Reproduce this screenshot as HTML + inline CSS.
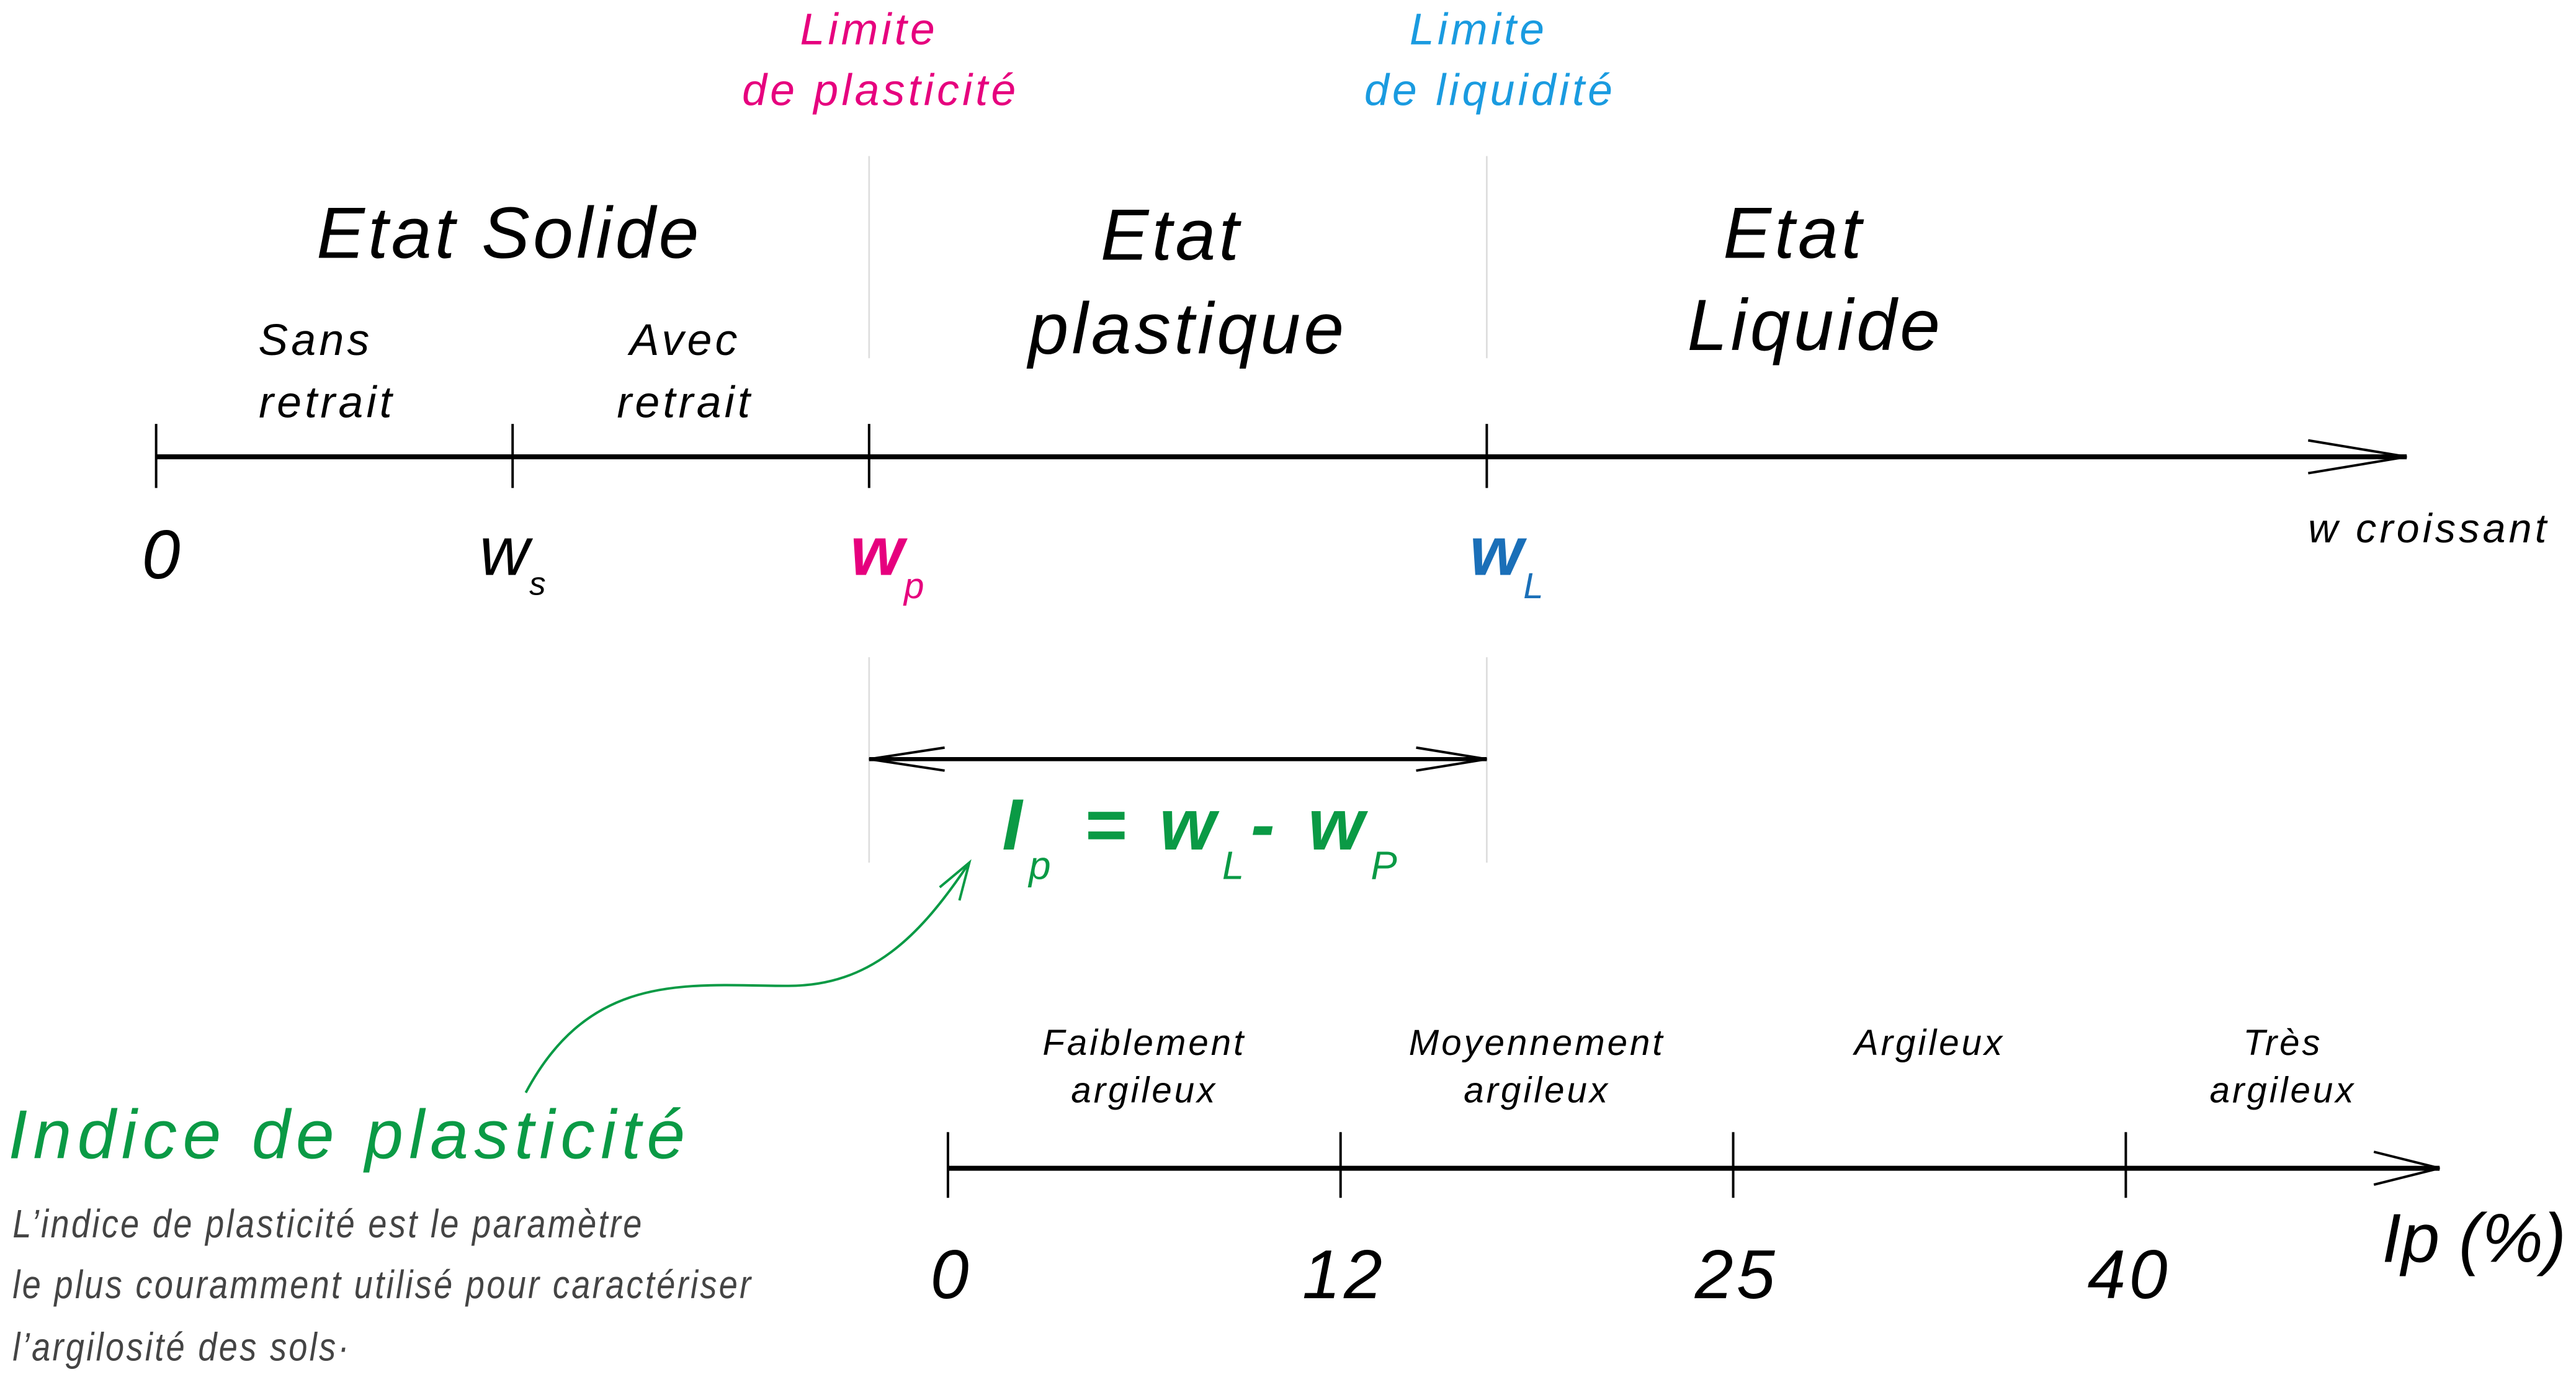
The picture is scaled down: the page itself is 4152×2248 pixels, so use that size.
<!DOCTYPE html>
<html><head><meta charset="utf-8">
<style>
html,body{margin:0;padding:0;background:#fff;width:4152px;height:2248px;overflow:hidden}
svg{display:block}
text{font-family:"Liberation Sans",sans-serif;font-style:italic}
</style></head>
<body>
<svg id="chart" width="4152" height="2248" viewBox="0 0 1568 849" xmlns="http://www.w3.org/2000/svg">
  <g stroke="#ddd" stroke-width="1">
    <line x1="529" y1="95" x2="529" y2="218"/>
    <line x1="905" y1="95" x2="905" y2="218"/>
    <line x1="529" y1="400" x2="529" y2="525"/>
    <line x1="905" y1="400" x2="905" y2="525"/>
  </g>
  <g font-size="27" text-anchor="middle" letter-spacing="2">
    <text x="529" y="27" fill="#e6007e">Limite</text>
    <text x="536" y="64" fill="#e6007e">de plasticité</text>
    <text x="900" y="27" fill="#1a9be0">Limite</text>
    <text x="907" y="64" fill="#1a9be0">de liquidité</text>
  </g>
  <g font-size="44" fill="#000" letter-spacing="2">
    <text x="310" y="157" text-anchor="middle">Etat  Solide</text>
    <text x="713" y="158" text-anchor="middle">Etat</text>
    <text x="723" y="215" text-anchor="middle">plastique</text>
    <text x="1092" y="157" text-anchor="middle">Etat</text>
    <text x="1105" y="213" text-anchor="middle">Liquide</text>
  </g>
  <g font-size="27" text-anchor="middle" fill="#000" letter-spacing="2">
    <text x="192" y="216">Sans</text><text x="199" y="254">retrait</text>
    <text x="417" y="216">Avec</text><text x="417" y="254">retrait</text>
  </g>
  <g stroke="#000" fill="none">
    <line x1="95" y1="278" x2="1465" y2="278" stroke-width="3"/>
    <polyline points="1405,268 1465,278 1405,288" stroke-width="1.5"/>
    <line x1="95" y1="258" x2="95" y2="297" stroke-width="1.5"/>
    <line x1="312" y1="258" x2="312" y2="297" stroke-width="1.5"/>
    <line x1="529" y1="258" x2="529" y2="297" stroke-width="1.5"/>
    <line x1="905" y1="258" x2="905" y2="297" stroke-width="1.5"/>
  </g>
  <g font-size="42">
    <text x="98" y="352" text-anchor="middle">0</text>
    <text x="312" y="350" text-anchor="middle">w<tspan font-size="20" dy="12">s</tspan></text>
    <text x="540" y="350" text-anchor="middle" fill="#e6007e" font-weight="bold">w<tspan font-size="22" dy="14" font-weight="normal">p</tspan></text>
    <text x="917" y="350" text-anchor="middle" fill="#1a6fb8" font-weight="bold">w<tspan font-size="22" dy="14" font-weight="normal">L</tspan></text>
    <text x="1405" y="330" font-size="25" letter-spacing="2">w  croissant</text>
  </g>
  <g stroke="#000" fill="none">
    <line x1="529" y1="462" x2="905" y2="462" stroke-width="2.5"/>
    <polyline points="575,455 529,462 575,469" stroke-width="1.5"/>
    <polyline points="862,455 905,462 862,469" stroke-width="1.5"/>
  </g>
  <text x="610" y="517" font-size="44" fill="#0a9a45" font-weight="bold" letter-spacing="4">I<tspan font-size="24" dy="18" font-weight="normal">p</tspan><tspan dy="-18"> = w</tspan><tspan font-size="24" dy="18" font-weight="normal">L</tspan><tspan dy="-18">-  w</tspan><tspan font-size="24" dy="18" font-weight="normal">P</tspan></text>
  <g stroke="#0a9a45" fill="none" stroke-width="1.5">
    <path d="M320,665 C360,590 420,600 480,600 C530,600 560,570 590,525"/>
    <polyline points="572,540 590,525 584,548"/>
  </g>
  <text x="5" y="705" font-size="42" fill="#0a9a45" letter-spacing="3.5">Indice  de  plasticité</text>
  <g font-size="24" fill="#444" transform="scale(0.85,1)" letter-spacing="1.5">
    <text x="9" y="753">L’indice de plasticité est le paramètre</text>
    <text x="9" y="790">le plus couramment utilisé pour caractériser</text>
    <text x="9" y="828">l’argilosité des sols·</text>
  </g>
  <g id="ipAxis"></g>
  <script>
    const tickValues = [0, 12, 25, 40];
    const categories = [["Faiblement","argileux"],["Moyennement","argileux"],["Argileux",""],["Très","argileux"]];
    const catX = [0.5, 1.5, 2.5, 3.4];
    const NS = "http://www.w3.org/2000/svg";
    const g = document.getElementById('ipAxis');
    const x0 = 577, step = 239, y = 711;
    const xs = i => x0 + i * step;
    function mk(tag, attrs){const e=document.createElementNS(NS,tag);for(const k in attrs)e.setAttribute(k,attrs[k]);g.appendChild(e);return e;}
    const axis = mk('line',{x1:x0,y1:y,x2:1485,y2:y,stroke:'#000','stroke-width':3});
    
    
    const head = mk('polyline',{points:'1445,701 1485,711 1445,721',stroke:'#000',fill:'none','stroke-width':1.5});
    
    
    tickValues.forEach((v,i)=>{
      const t = mk('line',{x1:xs(i),y1:y-22,x2:xs(i),y2:y+18,stroke:'#000','stroke-width':1.5});
      
      
      const l = mk('text',{x:xs(i)+2,y:790,'font-size':42,'text-anchor':'middle','letter-spacing':2});
      l.textContent = v;
      
      
    });
    categories.forEach((c,i)=>{
      const cx = x0 + catX[i]*step;
      c.forEach((s,j)=>{
        if(!s) return;
        const t = mk('text',{x:cx,y:642+j*29,'font-size':22,'text-anchor':'middle','letter-spacing':1.5});
        t.textContent = s;
        
        
      });
    });
    const at = mk('text',{x:1450,y:768,'font-size':42});
    at.textContent = 'Ip (%)';
    
    
  </script>
</svg>
</body></html>
